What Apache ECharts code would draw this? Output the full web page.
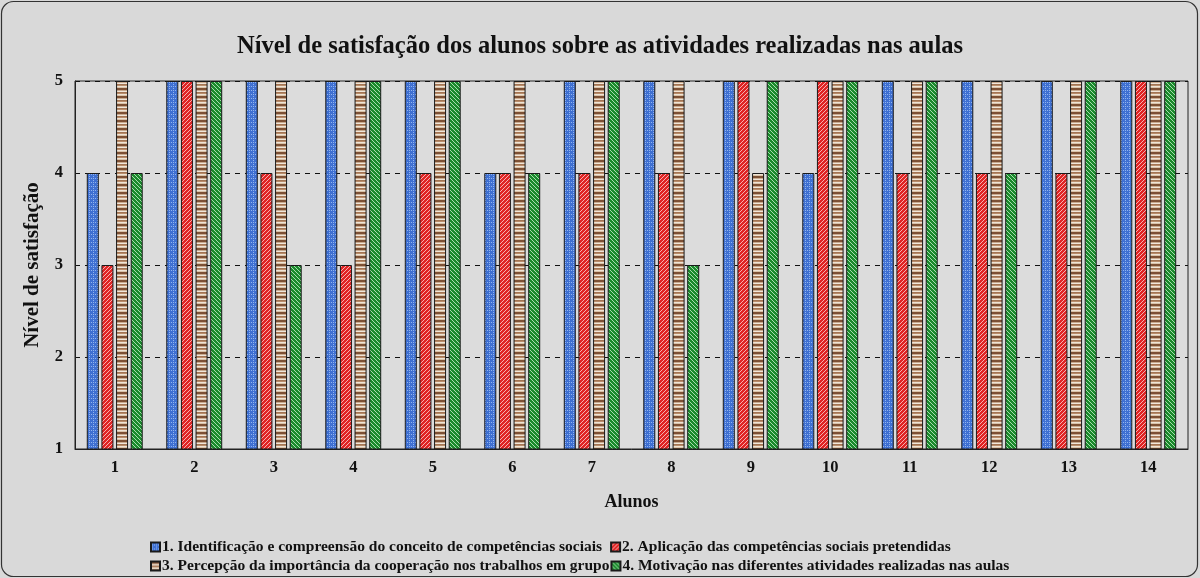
<!DOCTYPE html>
<html>
<head>
<meta charset="utf-8">
<script src="https://cdn.jsdelivr.net/npm/echarts@6/dist/echarts.min.js"></script>
<style>
  html, body { margin: 0; padding: 0; background: #d9d9d9; }
  #chart { width: 1200px; height: 578px; }
</style>
</head>
<body>
<div id="chart"></div>
<script>
// dados do gráfico
var alunos = ['1', '2', '3', '4', '5', '6', '7', '8', '9', '10', '11', '12', '13', '14'];
var nomes = [
  '1. Identificação e compreensão do conceito de competências sociais',
  '2. Aplicação das competências sociais pretendidas',
  '3. Percepção da importância da cooperação nos trabalhos em grupo',
  '4. Motivação nas diferentes atividades realizadas nas aulas'
];
var identificacao = [4, 5, 5, 5, 5, 4, 5, 5, 5, 4, 5, 5, 5, 5];
var aplicacao     = [3, 5, 4, 3, 4, 4, 4, 4, 5, 5, 4, 4, 4, 5];
var percepcao     = [5, 5, 5, 5, 5, 5, 5, 5, 4, 5, 5, 5, 5, 5];
var motivacao     = [4, 5, 3, 5, 5, 4, 5, 3, 5, 5, 5, 4, 5, 5];
var yTicks = [1, 2, 3, 4, 5];

var fonte = '"Liberation Serif", "Times New Roman", serif';

// texturas das barras (padrões em canvas)
function padrao(w, h, desenhar) {
  var c = document.createElement('canvas');
  c.width = w; c.height = h;
  desenhar(c.getContext('2d'));
  return { image: c, repeat: 'repeat' };
}
var azul = padrao(4, 4, function (g) {
  g.fillStyle = '#3f70d2'; g.fillRect(0, 0, 4, 4);
  g.fillStyle = '#92b4ee';
  g.fillRect(1, 0, 1, 1); g.fillRect(3, 2, 1, 1); g.fillRect(1, 2, 1, 1);
});
var vermelho = padrao(4, 4, function (g) {
  g.fillStyle = '#e02424'; g.fillRect(0, 0, 4, 4);
  g.fillStyle = '#f6b0b0';
  g.fillRect(3, 0, 1, 1); g.fillRect(2, 1, 1, 1); g.fillRect(1, 2, 1, 1); g.fillRect(0, 3, 1, 1);
});
var castanho = padrao(4, 8, function (g) {
  var faixas = ['#7d5034', '#7d5034', '#c9ab90', '#f0e6da', '#a27453', '#b88c6a', '#efe4d6', '#d9c2a8'];
  faixas.forEach(function (cor, i) { g.fillStyle = cor; g.fillRect(0, i, 4, 1); });
});
var verde = padrao(4, 4, function (g) {
  g.fillStyle = '#1a8a2c'; g.fillRect(0, 0, 4, 4);
  g.fillStyle = '#a8dcae';
  g.fillRect(0, 0, 1, 1); g.fillRect(1, 1, 1, 1); g.fillRect(2, 2, 1, 1); g.fillRect(3, 3, 1, 1);
});
var cores = [azul, vermelho, castanho, verde];
var valores = [identificacao, aplicacao, percepcao, motivacao];

var series = valores.map(function (v, i) {
  return {
    name: nomes[i],
    type: 'bar',
    data: v,
    barWidth: 12,
    barGap: '22%',
    itemStyle: { color: cores[i], borderColor: '#1a1a1a', borderWidth: 1 }
  };
});

var legendaTexto = { fontFamily: fonte, fontSize: 15.5, fontWeight: 'bold', color: '#111', padding: [0, 0, 0, -3] };

var chart = echarts.init(document.getElementById('chart'));
chart.setOption({
  backgroundColor: '#d9d9d9',
  animation: false,
  textStyle: { fontFamily: fonte },
  title: {
    text: 'Nível de satisfação dos alunos sobre as atividades realizadas nas aulas',
    left: 'center',
    top: 29,
    textStyle: { fontFamily: fonte, fontSize: 24.5, fontWeight: 'bold', color: '#111' }
  },
  legend: [
    {
      data: [nomes[0], nomes[1]],
      icon: 'rect',
      left: 145, top: 534, itemWidth: 9, itemHeight: 9, itemGap: 8,
      textStyle: legendaTexto
    },
    {
      data: [nomes[2], nomes[3]],
      icon: 'rect',
      left: 145, top: 553, itemWidth: 9, itemHeight: 9, itemGap: 1,
      textStyle: legendaTexto
    }
  ],
  grid: {
    left: 75, right: 12, top: 81, height: 368,
    show: true, borderColor: '#222', borderWidth: 1, backgroundColor: '#dcdcdc'
  },
  xAxis: {
    type: 'category',
    data: alunos,
    name: 'Alunos',
    nameLocation: 'middle',
    nameGap: 44,
    nameTextStyle: { fontFamily: fonte, fontSize: 18, fontWeight: 'bold', color: '#111' },
    axisLine: { lineStyle: { color: '#222' } },
    axisTick: { show: false },
    axisLabel: { fontFamily: fonte, fontSize: 16.5, fontWeight: 'bold', color: '#111', margin: 10 }
  },
  yAxis: {
    type: 'value',
    min: yTicks[0],
    max: yTicks[yTicks.length - 1],
    interval: 1,
    name: 'Nível de satisfação',
    nameLocation: 'middle',
    nameGap: 32,
    nameTextStyle: { fontFamily: fonte, fontSize: 21, fontWeight: 'bold', color: '#111' },
    axisLine: { show: true, lineStyle: { color: '#222' } },
    axisTick: { show: false },
    axisLabel: { fontFamily: fonte, fontSize: 16.5, fontWeight: 'bold', color: '#111', margin: 12 },
    splitLine: { lineStyle: { color: '#111', type: [5, 5], width: 1 } }
  },
  series: series,
  graphic: [{
    type: 'rect',
    shape: { x: 1.5, y: 1.5, width: 1196, height: 575, r: 12 },
    style: { fill: 'none', stroke: '#333', lineWidth: 1.2 },
    silent: true
  }]
});
</script>
</body>
</html>
